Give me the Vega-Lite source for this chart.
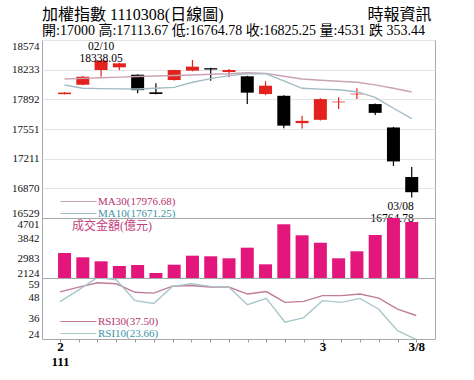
{
  "$schema": "https://vega.github.io/schema/vega-lite/v6.json",
  "background": "white",
  "padding": {"left": 11, "top": 6, "right": 8, "bottom": 4},
  "config": {
    "font": "Liberation Serif, Noto Sans CJK TC",
    "view": {"stroke": "#a8a8a8", "strokeWidth": 1},
    "axis": {"labelFont": "Liberation Serif", "labelFontSize": 11, "labelColor": "#111111", "domain": false, "ticks": false, "labelPadding": 3, "grid": false, "title": null, "labelOverlap": false},
    "legend": {"labelFont": "Liberation Serif", "labelFontSize": 11}
  },
  "datasets": {
    "k": [
      {"i": 0, "d": "2/8", "o": 17952, "h": 17975, "l": 17948, "c": 17970, "v": 3198, "ma30": 18126, "ma10": 18057, "rsi30": 51.0, "rsi10": 45.4},
      {"i": 1, "d": "2/9", "o": 18060, "h": 18160, "l": 18055, "c": 18152, "v": 3013, "ma30": 18133, "ma10": 18020, "rsi30": 53.8, "rsi10": 52.2},
      {"i": 2, "d": "2/10", "o": 18229, "h": 18338.05, "l": 18152, "c": 18338.05, "v": 2841, "ma30": 18140, "ma10": 18015, "rsi30": 56.3, "rsi10": 59.3},
      {"i": 3, "d": "2/11", "o": 18260, "h": 18312, "l": 18229, "c": 18306, "v": 2639, "ma30": 18147, "ma10": 18013, "rsi30": 55.7, "rsi10": 58.0},
      {"i": 4, "d": "2/14", "o": 18175, "h": 18180, "l": 17962, "c": 17998, "v": 2682, "ma30": 18155, "ma10": 18011, "rsi30": 50.8, "rsi10": 46.0},
      {"i": 5, "d": "2/15", "o": 17973, "h": 18077, "l": 17950, "c": 17954, "v": 2339, "ma30": 18160, "ma10": 18019, "rsi30": 50.3, "rsi10": 44.4},
      {"i": 6, "d": "2/16", "o": 18114, "h": 18232, "l": 18110, "c": 18229, "v": 2695, "ma30": 18166, "ma10": 18030, "rsi30": 54.3, "rsi10": 54.2},
      {"i": 7, "d": "2/17", "o": 18222, "h": 18344, "l": 18215, "c": 18268, "v": 3082, "ma30": 18172, "ma10": 18088, "rsi30": 54.7, "rsi10": 55.7},
      {"i": 8, "d": "2/18", "o": 18250, "h": 18254, "l": 18106, "c": 18235, "v": 3056, "ma30": 18180, "ma10": 18130, "rsi30": 53.8, "rsi10": 54.2},
      {"i": 9, "d": "2/21", "o": 18206, "h": 18240, "l": 18145, "c": 18229, "v": 2970, "ma30": 18186, "ma10": 18165, "rsi30": 53.8, "rsi10": 53.8},
      {"i": 10, "d": "2/22", "o": 18157, "h": 18162, "l": 17838, "c": 17969, "v": 3426, "ma30": 18198, "ma10": 18185, "rsi30": 49.8, "rsi10": 43.7},
      {"i": 11, "d": "2/23", "o": 17953, "h": 18100, "l": 17940, "c": 18049, "v": 2712, "ma30": 18191, "ma10": 18188, "rsi30": 51.2, "rsi10": 47.3},
      {"i": 12, "d": "2/24", "o": 17933, "h": 17940, "l": 17560, "c": 17590, "v": 4431, "ma30": 18158, "ma10": 18105, "rsi30": 45.0, "rsi10": 33.7},
      {"i": 13, "d": "2/25", "o": 17619, "h": 17703, "l": 17558, "c": 17645, "v": 3958, "ma30": 18126, "ma10": 18019, "rsi30": 45.6, "rsi10": 36.3},
      {"i": 14, "d": "3/1", "o": 17657, "h": 17905, "l": 17650, "c": 17895, "v": 3640, "ma30": 18111, "ma10": 18010, "rsi30": 48.9, "rsi10": 46.0},
      {"i": 15, "d": "3/2", "o": 17858, "h": 17915, "l": 17780, "c": 17866, "v": 2970, "ma30": 18100, "ma10": 18003, "rsi30": 48.9, "rsi10": 45.0},
      {"i": 16, "d": "3/3", "o": 17950, "h": 18019, "l": 17895, "c": 17957, "v": 3271, "ma30": 18089, "ma10": 17980, "rsi30": 49.8, "rsi10": 47.3},
      {"i": 17, "d": "3/4", "o": 17838, "h": 17845, "l": 17711, "c": 17737, "v": 3971, "ma30": 18058, "ma10": 17914, "rsi30": 47.5, "rsi10": 41.1},
      {"i": 18, "d": "3/7", "o": 17569, "h": 17575, "l": 17127, "c": 17179, "v": 4701, "ma30": 18020, "ma10": 17790, "rsi30": 41.1, "rsi10": 28.8},
      {"i": 19, "d": "3/8", "o": 17000, "h": 17113.67, "l": 16764.78, "c": 16825.25, "v": 4531, "ma30": 17976.68, "ma10": 17671.25, "rsi30": 37.5, "rsi10": 23.66}
    ],
    "notes": [
      {"i": 2, "p": 18338.05, "t": "02/10\n18338.05", "pos": "high"},
      {"i": 19, "p": 16764.78, "t": "03/08\n16764.78", "pos": "low"}
    ]
  },
  "spacing": 0,
  "bounds": "flush",
  "resolve": {
    "scale": {"x": "independent", "y": "independent", "color": "independent", "stroke": "independent"},
    "legend": {"color": "independent", "stroke": "independent"}
  },
  "vconcat": [
    {
      "width": 393,
      "height": 178,
      "title": {
        "text": "加權指數 1110308(日線圖)　　　　　　　　　時報資訊",
        "subtitle": "開:17000 高:17113.67 低:16764.78 收:16825.25 量:4531 跌 353.44",
        "anchor": "start",
        "frame": "group",
        "font": "Liberation Serif, Noto Sans CJK TC",
        "subtitleFont": "Liberation Serif, Noto Sans CJK TC",
        "fontSize": 16,
        "fontWeight": "normal",
        "subtitleFontSize": 14,
        "color": "#000000",
        "subtitleColor": "#000000",
        "subtitlePadding": 1,
        "offset": 2
      },
      "layer": [
        {
          "data": {"name": "k"},
          "mark": {"type": "rule", "strokeWidth": 1.2},
          "encoding": {
            "x": {"field": "i", "type": "quantitative", "scale": {"domain": [-0.96, 20], "nice": false, "zero": false}, "axis": null},
            "y": {"field": "l", "type": "quantitative", "scale": {"domain": [16529, 18574], "nice": false, "zero": false},
                  "axis": {"values": [16529, 16870, 17211, 17551, 17892, 18233, 18574], "tickCount": 7, "format": "d", "grid": true, "gridColor": "#e3e3e3", "labelOverlap": false, "labelFlush": true}},
            "y2": {"field": "h"},
            "color": {"condition": {"test": "datum.c >= datum.o", "value": "#e4221d"}, "value": "#000000"}
          }
        },
        {
          "data": {"name": "k"},
          "mark": {"type": "bar", "width": 13},
          "encoding": {
            "x": {"field": "i", "type": "quantitative", "axis": null},
            "y": {"field": "o", "type": "quantitative",
                  "axis": {"values": [16529, 16870, 17211, 17551, 17892, 18233, 18574], "tickCount": 7, "format": "d", "grid": true, "gridColor": "#e3e3e3", "labelOverlap": false, "labelFlush": true}},
            "y2": {"field": "c"},
            "color": {"condition": {"test": "datum.c >= datum.o", "value": "#e4221d"}, "value": "#000000"}
          }
        },
        {
          "data": {"name": "k"},
          "transform": [{"fold": ["ma30", "ma10"], "as": ["s", "val"]}],
          "mark": {"type": "line", "strokeWidth": 1.4},
          "encoding": {
            "x": {"field": "i", "type": "quantitative", "axis": null},
            "y": {"field": "val", "type": "quantitative",
                  "axis": {"values": [16529, 16870, 17211, 17551, 17892, 18233, 18574], "tickCount": 7, "format": "d", "grid": true, "gridColor": "#e3e3e3", "labelOverlap": false, "labelFlush": true}},
            "stroke": {"field": "s", "type": "nominal", "scale": {"domain": ["ma30", "ma10"], "range": ["#c9a2b5", "#a2bcc3"]},
              "legend": {"orient": "none", "legendX": 18, "legendY": 156, "title": null, "symbolType": "stroke", "symbolSize": 1296, "symbolStrokeWidth": 1, "symbolStrokeColor": "#b8b8b8",
                "labelExpr": "datum.value == 'ma30' ? 'MA30(17976.68)' : 'MA10(17671.25)'",
                "labelColor": {"expr": "datum.value == 'ma30' ? '#b5336e' : '#3b95a5'"},
                "labelFontSize": 11, "labelOffset": 1, "rowPadding": 0, "clipHeight": 11, "padding": 0}}
          }
        },
        {
          "data": {"name": "notes"},
          "transform": [{"filter": "datum.pos == 'high'"}],
          "mark": {"type": "text", "baseline": "bottom", "align": "center", "dy": -9, "lineBreak": "\n", "fontSize": 11.5, "lineHeight": 12, "font": "Liberation Serif", "color": "#000000"},
          "encoding": {
            "x": {"field": "i", "type": "quantitative", "axis": null},
            "y": {"field": "p", "type": "quantitative",
                  "axis": {"values": [16529, 16870, 17211, 17551, 17892, 18233, 18574], "tickCount": 7, "format": "d", "grid": true, "gridColor": "#e3e3e3", "labelOverlap": false, "labelFlush": true}},
            "text": {"field": "t"}
          }
        },
        {
          "data": {"name": "notes"},
          "transform": [{"filter": "datum.pos == 'low'"}],
          "mark": {"type": "text", "baseline": "top", "align": "right", "dx": 2, "dy": 4, "lineBreak": "\n", "fontSize": 11.5, "lineHeight": 12, "font": "Liberation Serif", "color": "#000000"},
          "encoding": {
            "x": {"field": "i", "type": "quantitative", "axis": null},
            "y": {"field": "p", "type": "quantitative",
                  "axis": {"values": [16529, 16870, 17211, 17551, 17892, 18233, 18574], "tickCount": 7, "format": "d", "grid": true, "gridColor": "#e3e3e3", "labelOverlap": false, "labelFlush": true}},
            "text": {"field": "t"}
          }
        }
      ]
    },
    {
      "width": 393,
      "height": 60,
      "data": {"name": "k"},
      "mark": {"type": "bar", "width": 13},
      "encoding": {
        "x": {"field": "i", "type": "quantitative", "scale": {"domain": [-0.96, 20], "nice": false, "zero": false}, "axis": null},
        "y": {"field": "v", "type": "quantitative", "scale": {"domain": [2124, 4701], "nice": false, "zero": false},
              "axis": {"values": [2124, 2983, 3842, 4701], "format": "d", "labelFlush": true, "labelOverlap": false}},
        "y2": {"datum": 2124},
        "color": {"datum": "成交金額(億元)", "type": "nominal", "scale": {"range": ["#e2167b"]},
          "legend": {"orient": "none", "legendX": 18, "legendY": 2, "title": null, "symbolSize": 0, "symbolOpacity": 0, "symbolStrokeWidth": 0,
            "labelColor": "#c23f7c", "labelFont": "Liberation Serif, Noto Sans CJK TC", "labelFontSize": 12, "labelOffset": 0, "padding": 0}}
      }
    },
    {
      "width": 393,
      "height": 61,
      "data": {"name": "k"},
      "transform": [{"fold": ["rsi30", "rsi10"], "as": ["s", "val"]}],
      "mark": {"type": "line", "strokeWidth": 1.4, "clip": true},
      "encoding": {
        "x": {"field": "i", "type": "quantitative", "scale": {"domain": [-0.96, 20], "nice": false, "zero": false},
              "axis": {"values": [0,1,2,3,4,5,6,7,8,9,10,11,12,13,14,15,16,17,18,19], "ticks": true, "tickSize": 3, "tickColor": "#999999",
                       "labelExpr": "datum.value == 0 ? ['2', '111'] : datum.value == 14 ? '3' : datum.value == 19 ? '3/8' : ''",
                       "labelFont": "Liberation Serif", "labelFontSize": 13, "labelFontWeight": "bold", "labelColor": "#000000", "labelPadding": -2, "labelOverlap": false, "labelLineHeight": 15}},
        "y": {"field": "val", "type": "quantitative", "scale": {"domain": [24, 59], "nice": false, "zero": false},
              "axis": {"values": [24, 36, 48, 59], "labelFlush": true, "labelOverlap": false}},
        "stroke": {"field": "s", "type": "nominal", "scale": {"domain": ["rsi30", "rsi10"], "range": ["#c07c9b", "#a8c7c9"]},
          "legend": {"orient": "none", "legendX": 18, "legendY": 38, "title": null, "symbolType": "stroke", "symbolSize": 1296, "symbolStrokeWidth": 1, "symbolStrokeColor": "#b8b8b8",
            "labelExpr": "datum.value == 'rsi30' ? 'RSI30(37.50)' : 'RSI10(23.66)'",
            "labelColor": {"expr": "datum.value == 'rsi30' ? '#b5336e' : '#3b95a5'"},
            "labelFontSize": 11, "labelOffset": 1, "rowPadding": 0, "clipHeight": 11, "padding": 0}}
      }
    }
  ]
}
